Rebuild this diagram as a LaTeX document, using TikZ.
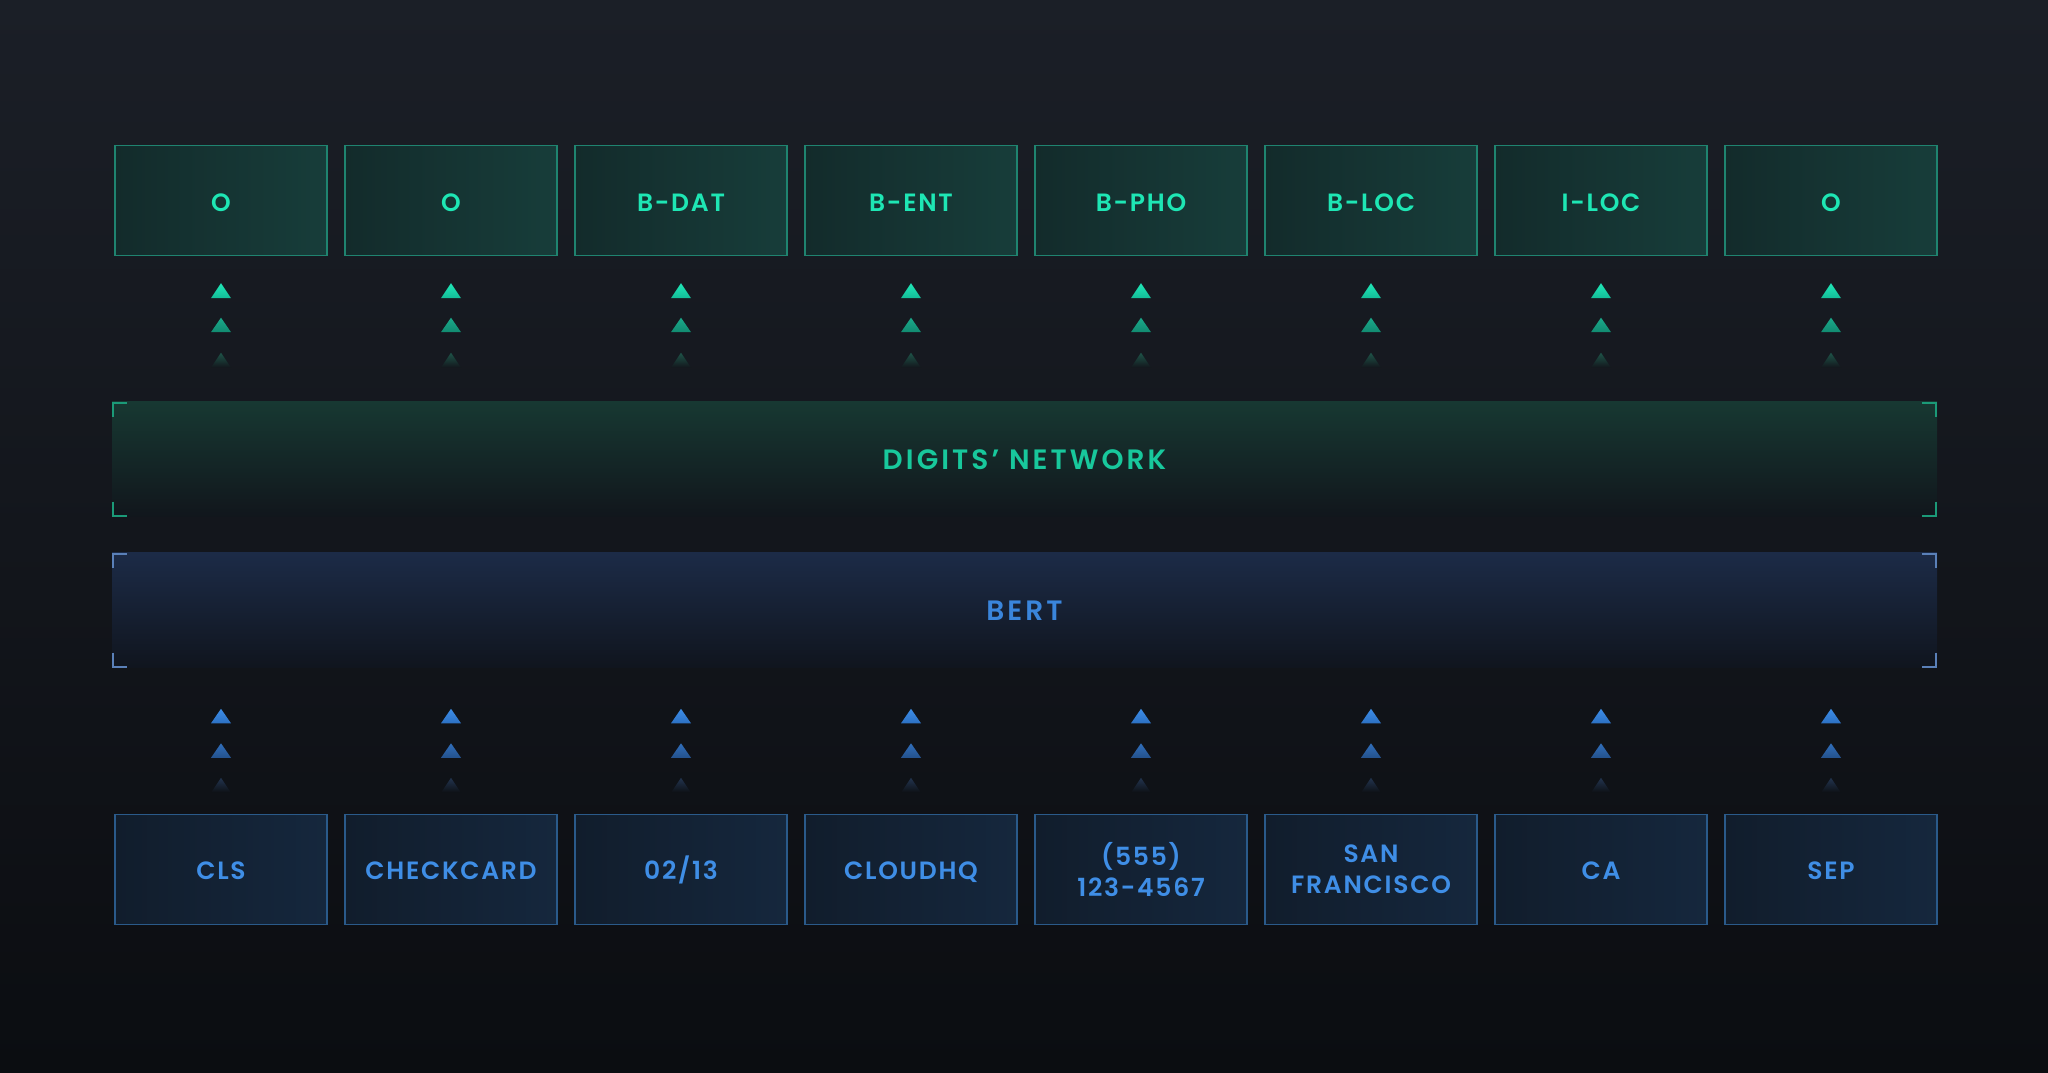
\documentclass[tikz,border=0pt]{standalone}
\usepackage{fontspec}
\newfontfamily\labfont{Poppins SemiBold}[LetterSpace=7]
\newfontfamily\bandfont{Poppins SemiBold}[LetterSpace=11]
\definecolor{bgtop}{HTML}{1B1F27}
\definecolor{bgbot}{HTML}{0B0D11}
\definecolor{bgmid}{HTML}{13161C}
\definecolor{bglow}{HTML}{0D1014}
\definecolor{tfillL}{HTML}{132B2B}
\definecolor{tfillR}{HTML}{173D3A}
\definecolor{tborder}{HTML}{1F8470}
\definecolor{ttext}{HTML}{1EE6B4}
\definecolor{tri1t}{HTML}{20E8B8}
\definecolor{tri1b}{HTML}{13BC97}
\definecolor{tri2t}{HTML}{1BAA8B}
\definecolor{tri2b}{HTML}{118A70}
\definecolor{tri3}{HTML}{1E5449}
\definecolor{dtop}{HTML}{173832}
\definecolor{dmid}{HTML}{142A28}
\definecolor{dbot}{HTML}{11161C}
\definecolor{dtext}{HTML}{18C89C}
\definecolor{dbrk}{HTML}{1B9A78}
\definecolor{btop}{HTML}{1C2B47}
\definecolor{bmid}{HTML}{18243A}
\definecolor{bbot}{HTML}{10151E}
\definecolor{btext}{HTML}{3A85DB}
\definecolor{bbrk}{HTML}{5A80B8}
\definecolor{lfillL}{HTML}{111D2C}
\definecolor{lfillR}{HTML}{15273D}
\definecolor{lborder}{HTML}{2A5A8A}
\definecolor{ltext}{HTML}{3F8EE6}
\definecolor{btri1t}{HTML}{3C8EE8}
\definecolor{btri1b}{HTML}{2D70C2}
\definecolor{btri2t}{HTML}{306EBB}
\definecolor{btri2b}{HTML}{24518C}
\definecolor{btri3}{HTML}{22344F}
\tikzset{
  labtxt/.style={font=\labfont\fontsize{25}{31}\selectfont, align=center},
  bandtxt/.style={font=\bandfont\fontsize{28}{34}\selectfont, text height=21.5pt, text depth=0pt},
  oneline/.style={text height=21pt, text depth=0pt},
  twoline/.style={},
  topbox/.style={labtxt, oneline, minimum width=212pt, minimum height=110pt, inner sep=0pt, outer sep=0pt,
    draw=tborder, line width=1.3pt, left color=tfillL, right color=tfillR, text=ttext},
  botbox/.style={labtxt, minimum width=212pt, minimum height=110pt, inner sep=0pt, outer sep=0pt,
    draw=lborder, line width=1.3pt, left color=lfillL, right color=lfillR, text=ltext},
  digband/.style={bandtxt, minimum width=1825pt, minimum height=115pt, inner sep=0pt, outer sep=0pt,
    top color=dtop, middle color=dmid, bottom color=dbot, text=dtext},
  bertband/.style={bandtxt, minimum width=1825pt, minimum height=115pt, inner sep=0pt, outer sep=0pt,
    top color=btop, middle color=bmid, bottom color=bbot, text=btext},
  brkd/.style={draw=dbrk, line width=2pt},
  brkb/.style={draw=bbrk, line width=2pt},
}
\begin{document}
\begin{tikzpicture}[x=1pt,y=-1pt]
\useasboundingbox (0,0) rectangle (2048,1073);
\shade[top color=bgtop, bottom color=bgbot] (0,0) rectangle (2048,1073);

% top label boxes
\foreach \i/\t in {1/O,2/O,3/B-DAT,4/B-ENT,5/B-PHO,6/B-LOC,7/I-LOC,8/O}{
  \node[topbox] (t\i) at ({221+230*(\i-1)},200.7) {\t};
  \shade[top color=tri1t, bottom color=tri1b] ([shift={(-10,42.5)}]t\i.south) -- ([shift={(10,42.5)}]t\i.south) -- ([shift={(0,27.5)}]t\i.south) -- cycle;
  \shade[top color=tri2t, bottom color=tri2b] ([shift={(-10,76.5)}]t\i.south) -- ([shift={(10,76.5)}]t\i.south) -- ([shift={(0,62)}]t\i.south) -- cycle;
  \shade[top color=tri3, bottom color=bgmid] ([shift={(-10,112)}]t\i.south) -- ([shift={(10,112)}]t\i.south) -- ([shift={(0,97)}]t\i.south) -- cycle;
}

% bands
\node[digband] (dn) at (1024.5,459.2) {DIGITS’ NETWORK};
\node[bertband] (bert) at (1024.5,610) {BERT};

\foreach \n/\s in {dn/brkd,bert/brkb}{
  \draw[\s] ([shift={(1,15)}]\n.north west) -- ([shift={(1,1)}]\n.north west) -- ([shift={(15,1)}]\n.north west);
  \draw[\s] ([shift={(-1,15)}]\n.north east) -- ([shift={(-1,1)}]\n.north east) -- ([shift={(-15,1)}]\n.north east);
  \draw[\s] ([shift={(1,-15)}]\n.south west) -- ([shift={(1,-1)}]\n.south west) -- ([shift={(15,-1)}]\n.south west);
  \draw[\s] ([shift={(-1,-15)}]\n.south east) -- ([shift={(-1,-1)}]\n.south east) -- ([shift={(-15,-1)}]\n.south east);
}

% bottom token boxes
\foreach \i/\t/\s in {1/CLS/oneline,2/CHECKCARD/oneline,3/{02/13}/oneline,4/CLOUDHQ/oneline,5/{(555)\\123-4567}/twoline,6/{SAN\\FRANCISCO}/twoline,7/CA/oneline,8/SEP/oneline}{
  \node[botbox, \s] (b\i) at ({221+230*(\i-1)},869.3) {\t};
  \shade[top color=btri1t, bottom color=btri1b] ([shift={(-10,-91)}]b\i.north) -- ([shift={(10,-91)}]b\i.north) -- ([shift={(0,-105.5)}]b\i.north) -- cycle;
  \shade[top color=btri2t, bottom color=btri2b] ([shift={(-10,-56.5)}]b\i.north) -- ([shift={(10,-56.5)}]b\i.north) -- ([shift={(0,-71)}]b\i.north) -- cycle;
  \shade[top color=btri3, bottom color=bglow] ([shift={(-10,-21.5)}]b\i.north) -- ([shift={(10,-21.5)}]b\i.north) -- ([shift={(0,-36.5)}]b\i.north) -- cycle;
}
\end{tikzpicture}
\end{document}
